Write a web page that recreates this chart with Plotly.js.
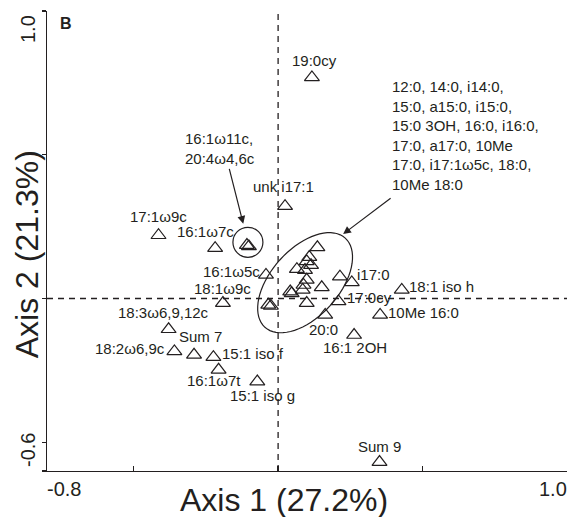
<!DOCTYPE html>
<html><head><meta charset="utf-8">
<script src="https://cdn.plot.ly/plotly-3.0.1.min.js"></script>
<style>html,body{margin:0;padding:0;background:#fff}#chart{width:567px;height:517px}</style>
</head><body><div id="chart"></div>
<script>
// ---- data ----
const labelNames = ['19:0cy','unk i17:1','17:1ω9c','16:1ω7c','16:1ω5c','18:1ω9c','18:3ω6,9,12c','18:2ω6,9c','Sum 7','15:1 iso f','16:1ω7t','15:1 iso g','i17:0','17:0cy','20:0','10Me 16:0','18:1 iso h','16:1 2OH','Sum 9'];
const labelX = [0.117, 0.024, -0.414, -0.218, -0.042, -0.191, -0.379, -0.359, -0.291, -0.224, -0.206, -0.072, 0.255, 0.209, 0.163, 0.353, 0.428, 0.263, 0.351];
const labelY = [0.769, 0.321, 0.220, 0.175, 0.082, -0.016, -0.107, -0.184, -0.196, -0.204, -0.248, -0.289, 0.056, -0.010, -0.057, -0.057, 0.030, -0.127, -0.569];
const clusterX = [0.136, 0.108, 0.099, 0.114, 0.065, 0.093, 0.099, 0.088, 0.085, 0.042, 0.047, 0.151, 0.099, -0.034, -0.025, 0.214];
const clusterY = [0.178, 0.144, 0.129, 0.116, 0.102, 0.099, 0.065, 0.047, 0.030, 0.024, 0.018, 0.039, -0.016, -0.022, -0.026, 0.076];
const circledX = [-0.108, -0.101];
const circledY = [0.186, 0.181];
const circledText = '16:1ω11c,<br>20:4ω4,6c';
const clusterText = '12:0, 14:0, i14:0,<br>15:0, a15:0, i15:0,<br>15:0 3OH, 16:0, i16:0,<br>17:0, a17:0, 10Me<br>17:0, i17:1ω5c, 18:0,<br>10Me 18:0';
const xTickVals = [-0.8, -0.5, 0, 0.5, 1.0];
const yTickVals = [-0.6, -0.5, 0, 0.5, 1.0];
const xTitle = 'Axis 1 (27.2%)';
const yTitle = 'Axis 2 (21.3%)';
const panelLabel = 'B';

// ---- layout constants ----
const FONT = 'Liberation Sans, Arial, sans-serif';
const INK = '#231f20';
const W = 567, H = 517, M = {l: 47, r: 0, t: 11, b: 46};
const xRange = [-0.8, 1.0], yRange = [-0.6, 1.0];
const pxPerX = (W - M.l - M.r) / (xRange[1] - xRange[0]);
const pxPerY = (H - M.t - M.b) / (yRange[1] - yRange[0]);
// label placement: [xanchor, dx px, dy px (down)]
const labelPlace = [
  ['center', 3, -17], ['center', -2, -20], ['center', 0, -19], ['center', -10, -17],
  ['right', -4, -3], ['center', 0, -15], ['center', -5, -17], ['right', -7, -3],
  ['center', 6, -18], ['left', 7, -4], ['center', -5, 11], ['center', 5, 14],
  ['left', 3, -8], ['left', 7, -4], ['center', -2, 15], ['left', 6, -2],
  ['left', 5, -3], ['center', 1, 12], ['center', 0, -16]
];

const marker = {symbol: 'triangle-up-open', size: 13, color: INK, line: {width: 1.2, color: INK}};
const traces = [
  {x: labelX, y: labelY, type: 'scatter', mode: 'markers', marker: marker, hoverinfo: 'skip', text: labelNames},
  {x: clusterX, y: clusterY, type: 'scatter', mode: 'markers', marker: marker, hoverinfo: 'skip'},
  {x: circledX, y: circledY, type: 'scatter', mode: 'markers', marker: marker, hoverinfo: 'skip'}
];

const annotations = labelNames.map((t, i) => ({
  x: labelX[i], y: labelY[i], xref: 'x', yref: 'y', text: t, showarrow: false,
  xanchor: labelPlace[i][0], yanchor: 'middle',
  xshift: labelPlace[i][1], yshift: -labelPlace[i][2],
  font: {family: FONT, size: 15, color: INK}
}));

// circle around pair
const cX = (circledX[0] + circledX[1]) / 2, cY = (circledY[0] + circledY[1]) / 2 + 0.012;
// ellipse around cluster (center in data, axes in px)
const ell = {cx: 0.0934, cy: 0.0549, a: 60, b: 34, ang: 48 * Math.PI / 180};
let path = '';
for (let k = 0; k <= 72; k++) {
  const t = k / 72 * 2 * Math.PI;
  const dx = ell.a * Math.cos(t) * Math.cos(ell.ang) - ell.b * Math.sin(t) * Math.sin(ell.ang);
  const dy = ell.a * Math.cos(t) * Math.sin(ell.ang) + ell.b * Math.sin(t) * Math.cos(ell.ang);
  path += (k === 0 ? 'M' : 'L') + (ell.cx + dx / pxPerX).toFixed(4) + ',' + (ell.cy + dy / pxPerY).toFixed(4);
}
path += 'Z';

// arrows + block texts
annotations.push(
  {x: cX, y: cY, xref: 'x', yref: 'y', text: '', showarrow: true, ax: -19, ay: -75,
   arrowhead: 2, arrowsize: 1.3, arrowwidth: 1.2, arrowcolor: INK, standoff: 19},
  {x: -0.329, y: 0.523, xref: 'x', yref: 'y', text: circledText, showarrow: false, align: 'left',
   xanchor: 'left', yanchor: 'middle', font: {family: FONT, size: 15, color: INK}},
  {x: 0.225, y: 0.224, xref: 'x', yref: 'y', text: '', showarrow: true, ax: 49, ay: -37,
   arrowhead: 2, arrowsize: 1.3, arrowwidth: 1.2, arrowcolor: INK},
  {x: 0.387, y: 0.568, xref: 'x', yref: 'y', text: clusterText, showarrow: false, align: 'left',
   xanchor: 'left', yanchor: 'middle', font: {family: FONT, size: 15, color: INK}},
  // tick labels at axis ends
  {x: xRange[0], y: 0, xref: 'x', yref: 'paper', text: xRange[0].toFixed(1), showarrow: false,
   xanchor: 'left', yanchor: 'middle', xshift: -2, yshift: -18, font: {family: FONT, size: 20, color: INK}},
  {x: xRange[1], y: 0, xref: 'x', yref: 'paper', text: xRange[1].toFixed(1), showarrow: false,
   xanchor: 'right', yanchor: 'middle', xshift: 2, yshift: -18, font: {family: FONT, size: 20, color: INK}},
  {x: 0, y: yRange[1], xref: 'paper', yref: 'y', text: yRange[1].toFixed(1), showarrow: false, textangle: -90,
   xanchor: 'center', yanchor: 'top', xshift: -19, yshift: -2, font: {family: FONT, size: 20, color: INK}},
  {x: 0, y: yRange[0], xref: 'paper', yref: 'y', text: yRange[0].toFixed(1), showarrow: false, textangle: -90,
   xanchor: 'center', yanchor: 'bottom', xshift: -19, yshift: 2, font: {family: FONT, size: 20, color: INK}},
  // axis titles
  {x: 0.456, y: 0, xref: 'paper', yref: 'paper', text: xTitle, showarrow: false,
   xanchor: 'center', yanchor: 'middle', yshift: -29, font: {family: FONT, size: 32, color: INK}},
  {x: 0, y: 0.154, xref: 'paper', yref: 'y', text: yTitle, showarrow: false, textangle: -90,
   xanchor: 'center', yanchor: 'middle', xshift: -20, font: {family: FONT, size: 32, color: INK}},
  {x: 0, y: 1, xref: 'paper', yref: 'paper', text: '<b>' + panelLabel + '</b>', showarrow: false,
   xanchor: 'center', yanchor: 'middle', xshift: 19, yshift: -12, font: {family: FONT, size: 16, color: INK}}
);

const dash = {color: INK, width: 1.3, dash: '6px,5px'};
const layout = {
  width: W, height: H, margin: M, showlegend: false,
  paper_bgcolor: '#fff', plot_bgcolor: '#fff',
  font: {family: FONT, color: INK},
  xaxis: {range: xRange, showgrid: false, zeroline: false, showline: true, linecolor: INK, linewidth: 1.3,
          ticks: 'inside', ticklen: 5, tickwidth: 1.3, tickcolor: INK, tickvals: xTickVals, showticklabels: false, fixedrange: true},
  yaxis: {range: yRange, showgrid: false, zeroline: false, showline: true, linecolor: INK, linewidth: 1.3,
          ticks: 'outside', ticklen: 4, tickwidth: 1.3, tickcolor: INK, tickvals: yTickVals, showticklabels: false, fixedrange: true},
  shapes: [
    {type: 'line', xref: 'x', yref: 'paper', x0: 0, x1: 0, y0: 0, y1: 1, line: dash, layer: 'below'},
    {type: 'line', xref: 'paper', yref: 'y', x0: 0, x1: 1, y0: 0, y1: 0, line: dash, layer: 'below'},
    {type: 'circle', xref: 'x', yref: 'y', xsizemode: 'pixel', ysizemode: 'pixel', xanchor: cX, yanchor: cY,
     x0: -15, x1: 15, y0: -15, y1: 15, line: {color: INK, width: 1.2}},
    {type: 'path', xref: 'x', yref: 'y', path: path, line: {color: INK, width: 1.2}}
  ],
  annotations: annotations
};
Plotly.newPlot('chart', traces, layout, {displayModeBar: false, staticPlot: true});
</script></body></html>
